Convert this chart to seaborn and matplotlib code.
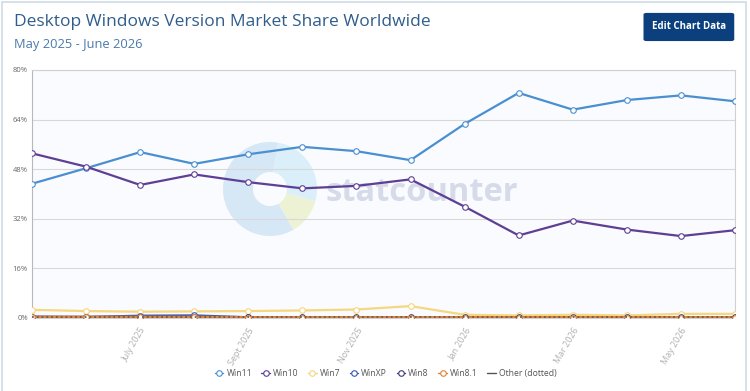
import pandas as pd
import matplotlib.pyplot as plt
import matplotlib.patches as mpatches
import seaborn as sns

months = ['May 2025', 'June 2025', 'July 2025', 'Aug 2025', 'Sept 2025', 'Oct 2025', 'Nov 2025',
          'Dec 2025', 'Jan 2026', 'Feb 2026', 'Mar 2026', 'Apr 2026', 'May 2026', 'June 2026']
win11 = [43.3, 48.3, 53.5, 49.7, 52.8, 55.2, 53.8, 50.9, 62.6, 72.6, 67.2, 70.3, 71.8, 69.9]
win10 = [53.1, 48.8, 42.9, 46.3, 43.8, 41.8, 42.6, 44.7, 35.9, 26.6, 31.4, 28.5, 26.4, 28.3]
win7 = [2.6, 2.2, 2.0, 2.1, 2.2, 2.4, 2.7, 3.8, 1.0, 0.8, 1.0, 0.8, 1.3, 1.3]
winxp = [0.4, 0.3, 0.7, 0.8, 0.2, 0.1, 0.1, 0.1, 0.1, 0.1, 0.1, 0.1, 0.1, 0.1]
win8 = [0.3, 0.3, 0.3, 0.3, 0.2, 0.2, 0.2, 0.2, 0.2, 0.2, 0.2, 0.2, 0.2, 0.2]
win81 = [0.2, 0.2, 0.2, 0.2, 0.1, 0.1, 0.1, 0.1, 0.1, 0.1, 0.1, 0.1, 0.1, 0.1]
other = [0.3, 0.3, 0.3, 0.3, 0.3, 0.3, 0.3, 0.3, 0.3, 0.3, 0.3, 0.3, 0.3, 0.3]

series = {'Win11': win11, 'Win10': win10, 'Win7': win7, 'WinXP': winxp,
          'Win8': win8, 'Win8.1': win81, 'Other (dotted)': other}
colors = {'Win11': '#4a8fd0', 'Win10': '#5e3f94', 'Win7': '#f4d77e', 'WinXP': '#3658b8',
          'Win8': '#3b3a7a', 'Win8.1': '#e0823a', 'Other (dotted)': '#6a5a55'}

tick_idx = [2, 4, 6, 8, 10, 12]

df = pd.DataFrame({'idx': range(len(months))})
for k, v in series.items():
    df[k] = v

sns.set_style('white')
plt.rcParams['font.family'] = ['Open Sans', 'DejaVu Sans']

fig = plt.figure(figsize=(7.5, 3.91), dpi=100)
fig.patch.set_facecolor('white')
ax = fig.add_axes([0.0427, 0.187, 0.9373, 0.634])
ax.set_facecolor('#fafbfe')

# faint watermark, kept behind the lines
for t1, t2, c in [(80, 300, '#d6e7f6'), (300, 345, '#eef2d4'), (345, 80, '#daeff9')]:
    ax.add_patch(mpatches.Wedge((2.70, 2.02), 0.47, t1, t2, width=0.3,
                                transform=fig.dpi_scale_trans, facecolor=c,
                                edgecolor='none', zorder=0.5))
ax.text(0.417, 0.505, 'statcounter', transform=ax.transAxes, fontsize=23.5,
        fontweight='bold', color='#d5dbe8', va='center', ha='left', zorder=0.6)

for name in series:
    c = colors[name]
    if name == 'Other (dotted)':
        sns.lineplot(data=df, x='idx', y=name, ax=ax, color=c, linestyle=':',
                     linewidth=1.3, label=name, zorder=3)
    else:
        lw = 2.2 if name == 'Win8.1' else 1.6
        sns.lineplot(data=df, x='idx', y=name, ax=ax, color=c, linewidth=lw,
                     marker='o', markersize=4, markerfacecolor='white',
                     markeredgecolor=c, markeredgewidth=0.8, label=name, zorder=3)

ax.set_xlim(0, len(months) - 1)
ax.set_ylim(0, 80)
ax.set_yticks([0, 16, 32, 48, 64, 80])
ax.set_yticklabels([f'{v}%' for v in [0, 16, 32, 48, 64, 80]])
ax.set_xticks(tick_idx)
ax.set_xticklabels([months[i] for i in tick_idx], rotation=60, ha='right',
                   rotation_mode='anchor', color='#b0b0b0', fontsize=6.5)
ax.tick_params(axis='y', labelsize=5.5, colors='#666666', length=0, pad=3)
ax.tick_params(axis='x', length=0, pad=6)
ax.grid(axis='y', color='#d8d8d8', linewidth=0.8)
ax.set_xlabel('')
ax.set_ylabel('')
for s in ax.spines.values():
    s.set_color('#d0d0d0')
    s.set_linewidth(0.8)
ax.spines['left'].set_color('#b8b8b8')

leg = ax.legend(loc='center', bbox_to_anchor=(0.503, -0.225),
                ncol=7, frameon=False, fontsize=6.2, handlelength=1.0, columnspacing=1.1,
                handletextpad=0.35, labelcolor='#555555')
for h in leg.get_lines():
    h.set_linewidth(1.0)
oh = leg.get_lines()[-1]
oh.set_linestyle('-')
oh.set_color('#555555')

fig.text(0.019, 0.945, 'Desktop Windows Version Market Share Worldwide', fontsize=12.5,
         color='#2f5d8c', va='center')
fig.text(0.019, 0.886, 'May 2025 - June 2026', fontsize=9.3, color='#4a7aab', va='center')

btn = mpatches.FancyBboxPatch((0.858, 0.895), 0.121, 0.072, boxstyle='round,pad=0,rounding_size=0.004',
                              transform=fig.transFigure, facecolor='#0b3f7e', edgecolor='none')
fig.add_artist(btn)
fig.text(0.9185, 0.931, 'Edit Chart Data', fontsize=7, fontweight='bold', color='white',
         ha='center', va='center')

fig.add_artist(mpatches.Rectangle((0.003, -0.02), 0.991, 1.015, transform=fig.transFigure,
                                  facecolor='none', edgecolor='#cfdbe6', linewidth=1.2))

fig.savefig('out.png', dpi=100)
